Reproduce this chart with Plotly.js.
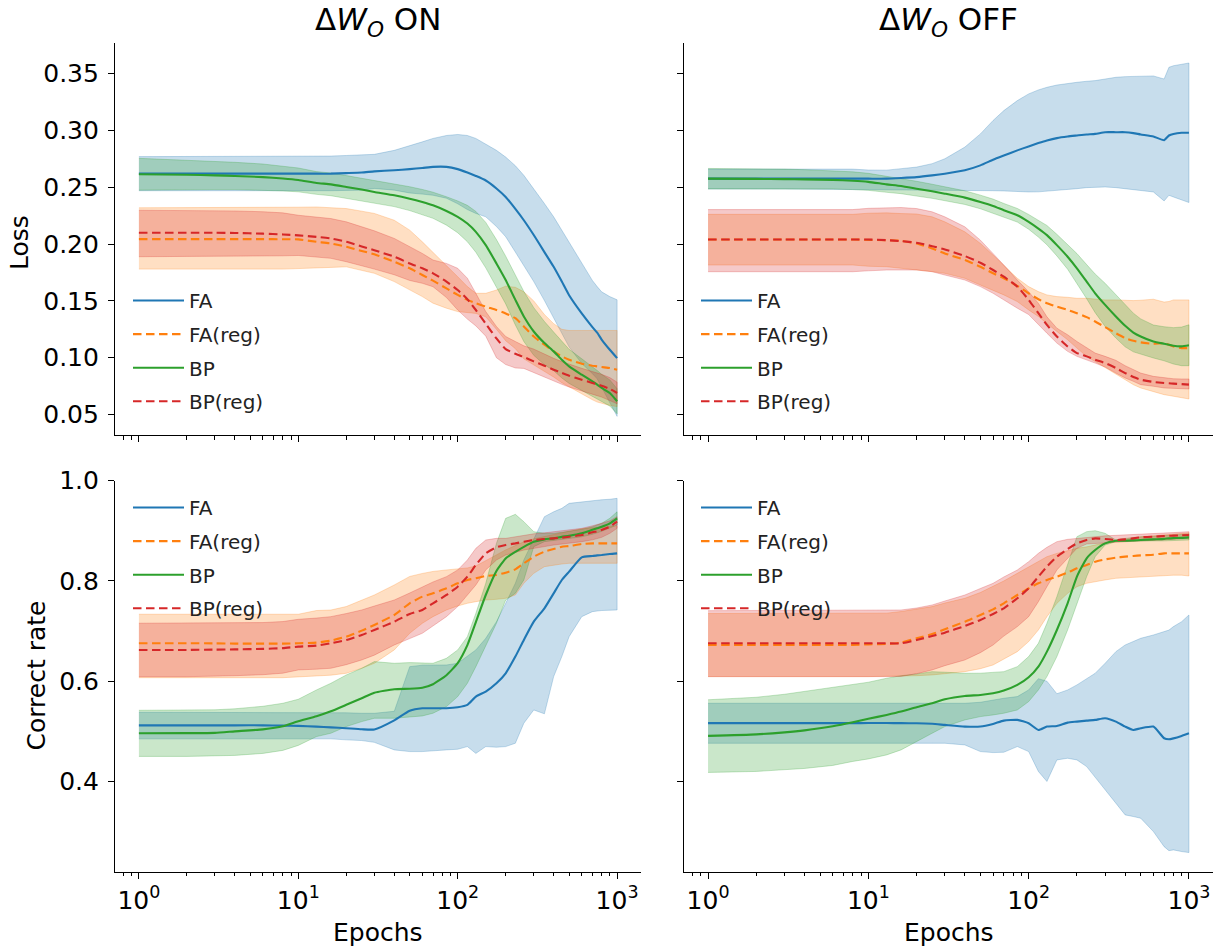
<!DOCTYPE html>
<html>
<head>
<meta charset="utf-8">
<script src="https://cdn.plot.ly/plotly-3.0.1.min.js"></script>
<style>html,body{margin:0;padding:0;background:#fff;}#chart{width:1219px;height:947px;}</style>
</head>
<body>
<div id="chart"></div>
<script>
// ---------------- data ----------------
const epochs = [1, 2, 3, 4, 6, 8, 10, 13, 16, 20, 25, 30, 40, 50, 60, 70, 85, 100, 115, 130, 150, 175, 200, 230, 260, 300, 350, 400, 450, 500, 600, 700, 750, 800, 900, 1000];
const seriesNames = ['FA', 'FA(reg)', 'BP', 'BP(reg)'];
const panelTitles = ['\u0394<i>W</i><sub><i>O</i></sub> ON', '\u0394<i>W</i><sub><i>O</i></sub> OFF'];
const lossTicks = [0.05, 0.10, 0.15, 0.20, 0.25, 0.30, 0.35];
const accTicks = [0.4, 0.6, 0.8, 1.0];
const xTickVals = [1, 10, 100, 1000];
const xTickText = ['10<sup>0</sup>', '10<sup>1</sup>', '10<sup>2</sup>', '10<sup>3</sup>'];

// ---- Loss, dW_O ON ----
const lossOnFA   = [.262,.262,.262,.262,.262,.262,.262,.262,.262,.2625,.263,.264,.265,.266,.267,.268,.268,.266,.263,.260,.256,.249,.2415,.231,.221,.208,.193,.180,.167,.155,.139,.127,.122,.116,.107,.0997];
const lossOnFAHi = [.277,.277,.277,.277,.277,.277,.277,.277,.2775,.278,.2785,.279,.2825,.287,.290,.293,.2956,.2965,.2956,.293,.288,.2825,.2766,.269,.2605,.249,.2357,.224,.2123,.2006,.183,.168,.1626,.158,.1538,.151];
const lossOnFALo = [.247,.247,.247,.247,.247,.247,.247,.247,.247,.247,.2475,.249,.2475,.245,.244,.243,.2404,.2355,.2304,.227,.224,.2155,.2065,.193,.1815,.167,.1503,.136,.1217,.1094,.095,.086,.0814,.074,.0602,.0484];
const lossOnFAr   = [.2044,.2044,.2044,.2044,.2044,.2043,.2042,.202,.2006,.1977,.194,.191,.1845,.1787,.1728,.1678,.161,.1553,.1509,.148,.145,.142,.139,.1348,.1275,.1187,.1114,.1056,.1012,.0982,.0947,.093,.0924,.0918,.091,.0895];
const lossOnFArHi = [.232,.232,.232,.232,.232,.232,.2325,.2327,.232,.2313,.229,.227,.221,.2123,.202,.193,.1816,.1713,.1626,.1567,.1567,.1596,.163,.162,.158,.150,.138,.130,.125,.124,.124,.124,.124,.124,.124,.124];
const lossOnFArLo = [.178,.178,.178,.178,.178,.178,.179,.179,.1795,.180,.177,.1743,.167,.1597,.1538,.148,.1436,.1406,.1398,.139,.136,.125,.115,.108,.099,.094,.088,.083,.078,.074,.068,.063,.061,.060,.058,.057];
const lossOnBP   = [.2615,.261,.2605,.260,.259,.2578,.2565,.2538,.2526,.2503,.248,.2459,.243,.240,.2371,.2342,.2292,.224,.2181,.2108,.1991,.183,.1684,.1509,.1363,.1231,.1129,.1056,.0982,.0924,.0851,.0792,.0763,.0734,.069,.0617];
const lossOnBPHi = [.2755,.274,.273,.272,.2705,.2688,.267,.2638,.2626,.2603,.258,.2559,.253,.2505,.2481,.2457,.2417,.238,.2341,.2288,.2191,.204,.1894,.1729,.1583,.1441,.1319,.1226,.1142,.1074,.0991,.0922,.0888,.0854,.0805,.0727];
const lossOnBPLo = [.2475,.248,.248,.248,.2475,.2468,.246,.2438,.2426,.2403,.238,.2359,.233,.2295,.2261,.2227,.2167,.210,.2021,.1928,.1791,.162,.1474,.1289,.1143,.1021,.0939,.0886,.0822,.0774,.0711,.0662,.0638,.0614,.0575,.0507];
const lossOnBPr   = [.210,.210,.210,.2098,.2092,.2085,.2077,.2064,.205,.202,.198,.1947,.1889,.183,.1787,.1743,.167,.1596,.1515,.142,.130,.117,.1076,.1035,.1006,.0968,.093,.0895,.0866,.0842,.0807,.0778,.0766,.0754,.0725,.069];
const lossOnBPrHi = [.2298,.2298,.2296,.2292,.2285,.2275,.2254,.224,.2225,.2196,.2152,.2117,.205,.1977,.1918,.186,.183,.1787,.170,.1567,.1406,.1275,.1187,.1143,.1105,.1076,.103,.0995,.0966,.0942,.0907,.0878,.0866,.0854,.0825,.0785];
const lossOnBPrLo = [.1889,.189,.1892,.1893,.1895,.1897,.190,.1888,.1875,.1845,.181,.178,.173,.168,.1655,.1625,.153,.142,.134,.128,.119,.100,.094,.091,.0906,.087,.083,.0795,.0766,.0742,.0707,.0678,.0666,.0654,.0625,.0595];

// ---- Loss, dW_O OFF ----
const lossOffFA   = [.2576,.2576,.2576,.2576,.2576,.2576,.2576,.2576,.2582,.259,.2605,.262,.265,.2693,.2743,.278,.2825,.286,.2889,.2912,.2933,.2947,.2956,.2965,.297,.2985,.2985,.2985,.2977,.2965,.2947,.2915,.2956,.297,.298,.298];
const lossOffFAHi = [.266,.266,.266,.266,.266,.266,.2652,.2651,.2664,.2678,.2708,.2751,.2854,.297,.3088,.3175,.3263,.3322,.3357,.338,.340,.3415,.3424,.3433,.3439,.3453,.3468,.3474,.3477,.348,.348,.3453,.3556,.357,.3585,.3594];
const lossOffFALo = [.2485,.2485,.2485,.2485,.2485,.2485,.248,.248,.248,.2477,.2474,.2474,.2474,.2471,.247,.2468,.2465,.2459,.246,.2465,.247,.248,.2488,.2497,.2503,.2503,.2497,.249,.248,.2474,.2459,.238,.243,.2415,.2386,.2366];
const lossOffFAr   = [.2041,.2041,.2041,.2041,.2041,.2041,.2037,.2035,.203,.2006,.1962,.1918,.186,.1801,.1743,.1699,.1632,.1567,.1515,.148,.145,.1421,.1392,.1357,.1319,.1269,.1216,.1173,.1149,.1135,.1123,.1129,.1114,.1099,.1085,.1085];
const lossOffFArHi = [.2262,.2262,.2262,.2262,.2262,.2262,.2272,.2275,.2269,.2265,.224,.2196,.2108,.2006,.1903,.1816,.1699,.1626,.1582,.1553,.1538,.1532,.1523,.1523,.1515,.1509,.1509,.1503,.1503,.1506,.1515,.149,.1495,.1509,.1509,.1509];
const lossOffFArLo = [.1816,.1816,.1816,.1816,.1816,.1816,.1805,.1801,.179,.1772,.1758,.1743,.1699,.164,.1596,.1553,.1494,.1421,.1363,.1304,.1231,.1158,.1085,.1012,.0968,.0909,.0851,.0807,.0763,.0734,.0705,.0675,.0668,.0661,.0646,.0637];
const lossOffBP   = [.2576,.2574,.2572,.257,.2565,.2558,.2548,.2526,.2512,.2488,.2465,.2444,.2409,.2371,.2336,.2298,.2254,.2196,.2137,.2079,.1991,.1889,.1787,.167,.1567,.1465,.1363,.1281,.1222,.1187,.1143,.1123,.1114,.1105,.110,.111];
const lossOffBPHi = [.2666,.2664,.266,.2655,.2645,.2636,.2623,.2596,.258,.2553,.2527,.2504,.2469,.2431,.2396,.2358,.2314,.2261,.2212,.2164,.2086,.1999,.1917,.182,.1737,.1655,.1553,.1466,.1392,.1342,.1288,.1273,.1269,.1265,.127,.129];
const lossOffBPLo = [.2486,.2484,.2484,.2485,.2485,.248,.2473,.2456,.2444,.2423,.2403,.2384,.2349,.2311,.2276,.2238,.2194,.2131,.2062,.1994,.1896,.1779,.1657,.152,.1397,.1275,.1173,.1096,.1052,.1032,.0998,.0973,.0959,.0945,.093,.093];
const lossOffBPr   = [.2041,.2041,.2041,.2041,.2041,.2041,.2041,.2035,.2026,.2012,.1982,.1953,.1895,.1836,.1772,.1713,.1626,.1509,.1392,.1289,.1187,.1099,.1041,.1012,.0982,.0953,.0909,.0865,.083,.0807,.0787,.0778,.0775,.0772,.0768,.0763];
const lossOffBPrHi = [.2304,.2304,.2304,.2304,.2304,.2304,.2315,.2322,.2322,.2313,.2284,.224,.2152,.2035,.1918,.1816,.1684,.158,.148,.136,.126,.1202,.1143,.1085,.1041,.1012,.0977,.093,.0895,.0865,.0836,.0822,.0818,.0815,.0813,.0813];
const lossOffBPrLo = [.1757,.1757,.1757,.1757,.1757,.1757,.1765,.1772,.1772,.1772,.1757,.1728,.1684,.1626,.1567,.1509,.1436,.138,.129,.1216,.1129,.1056,.1012,.0982,.0953,.0918,.0865,.0822,.0792,.0763,.0749,.0734,.073,.0728,.0726,.0725];

// ---- Correct rate, dW_O ON ----
const accOnFA   = [.512,.512,.512,.512,.512,.5115,.511,.5095,.508,.5062,.5042,.5038,.522,.541,.546,.546,.546,.548,.5527,.5693,.5793,.5959,.6158,.6491,.6823,.7188,.7454,.7753,.8019,.8185,.8471,.8498,.851,.8518,.8538,.8551];
const accOnFAHi = [.538,.538,.538,.538,.538,.538,.538,.538,.538,.537,.536,.536,.54,.629,.632,.6324,.6324,.6358,.6491,.6624,.6856,.7188,.7554,.7953,.8418,.885,.9282,.938,.9448,.9548,.958,.960,.961,.962,.963,.9648];
const accOnFALo = [.485,.485,.485,.485,.485,.485,.485,.485,.485,.483,.4816,.478,.463,.4596,.4596,.4603,.463,.4643,.4696,.456,.4696,.4683,.4696,.4763,.5162,.5427,.535,.6092,.6491,.6889,.7288,.7388,.740,.741,.742,.7421];
const accOnFAr   = [.6757,.6757,.6755,.675,.675,.675,.6756,.677,.681,.6889,.7009,.7122,.7321,.7554,.7687,.7753,.7853,.7953,.802,.8053,.81,.8119,.8166,.8232,.8352,.8485,.8584,.8637,.8684,.8697,.8737,.875,.875,.875,.875,.875];
const accOnFArHi = [.7336,.7336,.7336,.7336,.7336,.7336,.7336,.741,.742,.749,.762,.772,.792,.809,.815,.819,.822,.824,.826,.83,.84,.852,.862,.87,.878,.884,.888,.892,.896,.899,.904,.906,.907,.908,.909,.91];
const accOnFArLo = [.607,.607,.607,.607,.607,.607,.609,.6105,.612,.6158,.6258,.6358,.6624,.6956,.7155,.7288,.7421,.7501,.7554,.7587,.762,.7633,.7654,.772,.7953,.8152,.8285,.8318,.8338,.8352,.8365,.836,.836,.8355,.8352,.8352];
const accOnBP   = [.4963,.4965,.497,.500,.504,.51,.52,.53,.54,.553,.566,.577,.584,.585,.587,.594,.612,.636,.672,.718,.772,.82,.845,.858,.868,.878,.883,.885,.888,.89,.895,.902,.905,.908,.915,.925];
const accOnBPHi = [.542,.542,.543,.545,.55,.556,.564,.5826,.5959,.6125,.6258,.6391,.6358,.6371,.6371,.6358,.6457,.6624,.6889,.7355,.7953,.875,.9249,.9329,.9182,.8983,.895,.895,.897,.899,.903,.908,.911,.915,.925,.938];
const accOnBPLo = [.45,.45,.451,.452,.456,.462,.472,.4895,.4962,.5095,.5194,.5261,.5261,.528,.5307,.5361,.5494,.5693,.5959,.6291,.669,.7155,.762,.7754,.802,.8684,.8784,.8817,.884,.885,.888,.893,.896,.899,.905,.9116];
const accOnBPr   = [.6624,.6624,.663,.6635,.6645,.666,.669,.671,.6756,.6823,.6922,.7022,.7188,.7341,.7421,.7554,.772,.7886,.8086,.8318,.8551,.8671,.8717,.875,.8784,.8817,.8837,.885,.8863,.8883,.8916,.897,.899,.9016,.9083,.9182];
const accOnBPrHi = [.7157,.7157,.716,.7165,.717,.719,.7235,.726,.7288,.735,.7421,.75,.762,.776,.7886,.798,.8086,.8219,.8418,.8651,.8817,.885,.885,.888,.8916,.894,.896,.8983,.90,.902,.9049,.91,.912,.915,.92,.9282];
const accOnBPrLo = [.609,.609,.61,.611,.613,.616,.6225,.624,.6258,.633,.6424,.652,.6723,.685,.6956,.71,.7288,.7488,.772,.792,.8219,.8418,.8518,.857,.8617,.865,.8685,.8717,.874,.876,.8784,.882,.884,.887,.895,.9049];

// ---- Correct rate, dW_O OFF ----
const accOffFA   = [.5163,.5163,.5163,.5163,.5163,.5163,.5165,.5165,.5163,.5161,.515,.5128,.5095,.5095,.5148,.5214,.5228,.5161,.5028,.5095,.5108,.5174,.5194,.5214,.5228,.5261,.5194,.5095,.5028,.5062,.5095,.4862,.4842,.486,.4909,.4962];
const accOffFAHi = [.556,.556,.556,.556,.556,.556,.556,.556,.556,.556,.556,.556,.556,.558,.5626,.566,.5693,.5826,.605,.600,.575,.5826,.5926,.6059,.6158,.6358,.659,.6723,.6789,.6856,.6922,.698,.702,.7089,.7188,.7321];
const accOffFALo = [.4762,.4762,.4762,.4762,.4762,.4762,.4762,.4762,.4762,.4762,.4762,.4762,.4729,.4596,.4576,.4583,.4696,.4596,.42,.40,.443,.4463,.443,.4297,.4098,.3832,.3566,.3333,.33,.3267,.3001,.27,.262,.2635,.2602,.2582];
const accOffFAr   = [.6724,.6724,.6724,.6724,.6724,.6724,.6735,.6743,.677,.6856,.6942,.7036,.7188,.7321,.7434,.7554,.772,.7853,.7953,.802,.8086,.8166,.8252,.8318,.8385,.8431,.8465,.8485,.8498,.8511,.8524,.8551,.8551,.8551,.8551,.8551];
const accOffFArHi = [.735,.735,.735,.735,.735,.735,.7355,.7358,.739,.744,.7488,.756,.7654,.777,.7886,.80,.8152,.8285,.84,.8484,.855,.86,.865,.868,.872,.876,.88,.883,.886,.888,.89,.892,.893,.894,.895,.896];
const accOffFArLo = [.6092,.6092,.6092,.6092,.6092,.6092,.6092,.6092,.61,.611,.6125,.615,.6191,.625,.6324,.645,.659,.679,.7022,.7288,.7554,.7753,.7886,.7953,.7986,.802,.8053,.8066,.8075,.8086,.8095,.8105,.811,.8115,.8115,.8099];
const accOffBP   = [.491,.494,.498,.502,.51,.518,.525,.5327,.5394,.548,.556,.564,.5706,.5726,.5759,.5813,.5926,.6078,.6291,.659,.7022,.7554,.8086,.8451,.8617,.875,.8803,.8803,.881,.8817,.883,.884,.885,.8855,.886,.887];
const accOffBPHi = [.563,.568,.574,.58,.588,.594,.598,.6059,.611,.6145,.6191,.618,.6158,.616,.617,.6191,.6291,.6491,.6756,.7155,.7687,.8351,.8883,.8983,.9003,.895,.8817,.885,.887,.888,.889,.890,.891,.892,.893,.8937];
const accOffBPLo = [.418,.42,.423,.426,.432,.44,.445,.453,.463,.4795,.4962,.5095,.5228,.5294,.5327,.5361,.5427,.5593,.5826,.6092,.6491,.7022,.7554,.8086,.8484,.8717,.8784,.8784,.879,.879,.88,.88,.8805,.881,.881,.8817];
const accOffBPr   = [.6757,.6757,.6757,.6757,.6757,.6757,.6756,.6756,.6756,.6823,.6902,.6969,.7102,.7222,.7341,.7454,.7654,.7853,.8086,.8285,.8484,.8637,.875,.8817,.885,.8837,.8817,.883,.885,.887,.8883,.8897,.890,.8905,.891,.8917];
const accOffBPrHi = [.7408,.7408,.7408,.7408,.7408,.7408,.7415,.742,.7421,.746,.7521,.76,.772,.785,.7953,.808,.8219,.8385,.8551,.8671,.8784,.883,.885,.887,.8883,.890,.891,.8917,.8925,.8935,.8945,.8955,.896,.8965,.8975,.8983];
const accOffBPrLo = [.6092,.6092,.6092,.6092,.6092,.6092,.6092,.6092,.6095,.615,.6225,.631,.6424,.657,.6723,.69,.7089,.7288,.7587,.7886,.8219,.8451,.8651,.8737,.875,.8764,.877,.8784,.879,.88,.881,.882,.8825,.883,.884,.885];

// ---------------- styling ----------------
const colors = {FA: [31,119,180], 'FA(reg)': [255,127,14], BP: [44,160,44], 'BP(reg)': [214,39,40]};
const dashes = {FA: 'solid', 'FA(reg)': '8.5px,4.5px', BP: 'solid', 'BP(reg)': '8.5px,4.5px'};
const FONT = 'DejaVu Sans, sans-serif';
const W = 1219, H = 947;

const panels = [
  {xa: 'x',  ya: 'y',  legend: 'legend',  data: {FA: [lossOnFA, lossOnFALo, lossOnFAHi], 'FA(reg)': [lossOnFAr, lossOnFArLo, lossOnFArHi], BP: [lossOnBP, lossOnBPLo, lossOnBPHi], 'BP(reg)': [lossOnBPr, lossOnBPrLo, lossOnBPrHi]}},
  {xa: 'x2', ya: 'y2', legend: 'legend2', data: {FA: [lossOffFA, lossOffFALo, lossOffFAHi], 'FA(reg)': [lossOffFAr, lossOffFArLo, lossOffFArHi], BP: [lossOffBP, lossOffBPLo, lossOffBPHi], 'BP(reg)': [lossOffBPr, lossOffBPrLo, lossOffBPrHi]}},
  {xa: 'x3', ya: 'y3', legend: 'legend3', data: {FA: [accOnFA, accOnFALo, accOnFAHi], 'FA(reg)': [accOnFAr, accOnFArLo, accOnFArHi], BP: [accOnBP, accOnBPLo, accOnBPHi], 'BP(reg)': [accOnBPr, accOnBPrLo, accOnBPrHi]}},
  {xa: 'x4', ya: 'y4', legend: 'legend4', data: {FA: [accOffFA, accOffFALo, accOffFAHi], 'FA(reg)': [accOffFAr, accOffFArLo, accOffFArHi], BP: [accOffBP, accOffBPLo, accOffBPHi], 'BP(reg)': [accOffBPr, accOffBPrLo, accOffBPrHi]}}
];

const rgba = (c, a) => `rgba(${c[0]},${c[1]},${c[2]},${a})`;
const traces = [];
panels.forEach(p => {
  // bands first (below all lines, as in matplotlib)
  seriesNames.forEach(name => {
    const [m, lo, hi] = p.data[name];
    traces.push({
      type: 'scatter', mode: 'lines', xaxis: p.xa, yaxis: p.ya, legend: p.legend,
      x: epochs.concat(epochs.slice().reverse()),
      y: hi.concat(lo.slice().reverse()),
      fill: 'toself', fillcolor: rgba(colors[name], 0.25),
      line: {color: rgba(colors[name], 0.25), width: 1},
      showlegend: false, hoverinfo: 'skip', legendgroup: name
    });
  });
  seriesNames.forEach(name => {
    const [m] = p.data[name];
    traces.push({
      type: 'scatter', mode: 'lines', xaxis: p.xa, yaxis: p.ya, legend: p.legend,
      x: epochs, y: m, name: name, legendgroup: name,
      line: {color: rgba(colors[name], 1), width: 2.1, dash: dashes[name], shape: 'spline', smoothing: 0.5}
    });
  });
});

// minor tick positions for the log axis
const minorVals = [0.8, 0.9];
[1, 10, 100].forEach(d => { for (let k = 2; k <= 9; k++) minorVals.push(k * d); });

const xDomL = [115 / W, 641 / W], xDomR = [684 / W, 1213 / W];
const yDomT = [1 - 435 / H, 1 - 43 / H], yDomB = [1 - 871.7 / H, 1 - 480.7 / H];

function xAxis(domain, anchor, showLabels) {
  return {
    type: 'log', domain: domain, anchor: anchor, range: [-0.15, 3.15],
    showline: true, linecolor: 'black', linewidth: 1.1, mirror: false,
    showgrid: false, zeroline: false,
    ticks: 'outside', ticklen: 6, tickwidth: 1.1, tickcolor: 'black',
    tickmode: 'array', tickvals: xTickVals, ticktext: xTickText,
    showticklabels: showLabels,
    tickfont: {family: FONT, size: 25, color: 'black'},
    minor: {ticks: 'outside', ticklen: 3.5, tickwidth: 1, tickcolor: 'black', tickmode: 'array', tickvals: minorVals, showgrid: false}
  };
}
function yAxis(domain, anchor, range, tickvals, fmt, showLabels) {
  return {
    domain: domain, anchor: anchor, range: range,
    showline: true, linecolor: 'black', linewidth: 1.1, mirror: false,
    showgrid: false, zeroline: false,
    ticks: 'outside', ticklen: 6, tickwidth: 1.1, tickcolor: 'black',
    tickmode: 'array', tickvals: tickvals, tickformat: fmt,
    showticklabels: showLabels, ticklabelstandoff: 4,
    tickfont: {family: FONT, size: 25, color: 'black'}
  };
}

function legendAt(xpx, ypx) {
  return {
    x: xpx / W, y: 1 - ypx / H, xanchor: 'left', yanchor: 'top',
    bgcolor: 'rgba(0,0,0,0)', borderwidth: 0,
    font: {family: FONT, size: 20, color: '#222'},
    itemwidth: 51, tracegroupgap: 4.6, traceorder: 'grouped'
  };
}

const annText = (text, xpx, ypx, size, angle) => ({
  text: text, xref: 'paper', yref: 'paper', x: xpx / W, y: 1 - ypx / H,
  xanchor: 'center', yanchor: 'middle', showarrow: false, textangle: angle || 0,
  font: {family: FONT, size: size, color: 'black'}
});

const layout = {
  width: W, height: H,
  margin: {l: 0, r: 0, t: 0, b: 0, pad: 0},
  paper_bgcolor: 'white', plot_bgcolor: 'white',
  font: {family: FONT, color: 'black'},
  xaxis:  xAxis(xDomL, 'y', false),
  xaxis2: xAxis(xDomR, 'y2', false),
  xaxis3: xAxis(xDomL, 'y3', true),
  xaxis4: xAxis(xDomR, 'y4', true),
  yaxis:  yAxis(yDomT, 'x',  [0.032, 0.377], lossTicks, '.2f', true),
  yaxis2: yAxis(yDomT, 'x2', [0.032, 0.377], lossTicks, '.2f', false),
  yaxis3: yAxis(yDomB, 'x3', [0.22, 1.0], accTicks, '.1f', true),
  yaxis4: yAxis(yDomB, 'x4', [0.22, 1.0], accTicks, '.1f', false),
  legend:  legendAt(128, 281),
  legend2: legendAt(696, 281),
  legend3: legendAt(128, 488),
  legend4: legendAt(696, 488),
  annotations: [
    annText(panelTitles[0], 378, 22, 31),
    annText(panelTitles[1], 948.5, 22, 31),
    annText('Loss', 20, 243, 25, -90),
    annText('Correct rate', 35.5, 676, 25, -90),
    annText('Epochs', 378, 932, 25),
    annText('Epochs', 948.5, 932, 25)
  ],
  showlegend: true
};

Plotly.newPlot('chart', traces, layout, {displayModeBar: false, responsive: false});
</script>
</body>
</html>
